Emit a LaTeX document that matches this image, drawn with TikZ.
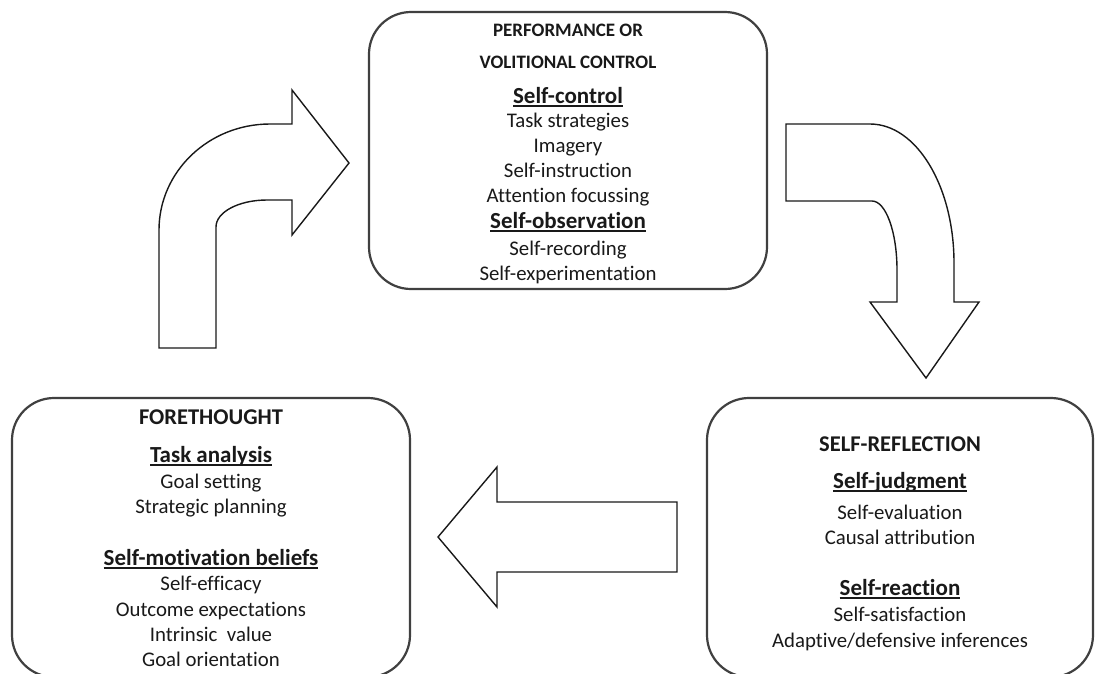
\documentclass[tikz,border=0pt]{standalone}
\usepackage{fontspec}
\setmainfont{Carlito}[Ligatures={NoCommon}]
\usetikzlibrary{positioning}
\tikzset{%
  phase/.style={draw=black!75, line width=2.2pt, rounded corners=42pt, inner sep=0pt},
  blockarrow/.style={draw=black!90, line width=1.4pt, line join=miter, fill=white},
  item/.style={anchor=base, inner sep=0pt, text=black!90, font=\fontsize{20.8}{25}\selectfont},
}
\newcommand{\phasetitle}[2][22.5]{{\fontsize{#1}{#1}\selectfont\bfseries #2}}
\newcommand{\topic}[1]{{\fontsize{23}{28}\selectfont\setbox0\hbox{\bfseries #1}%
  \rlap{\rule[-3.5pt]{\wd0}{1.4pt}}\box0}}

\begin{document}
\begin{tikzpicture}[x=1pt, y=-1pt]
  \path[fill=white, use as bounding box] (0,0) rectangle (1095,673);
  \clip (0,0) rectangle (1095,673);

  % the three phases
  \node[phase, minimum width=398pt, minimum height=277pt] (perf) at (568,150.5) {};
  \node[phase, minimum width=398pt, minimum height=279pt] (fore) at (211,537.5) {};
  \node[phase, minimum width=386pt, minimum height=279pt] (refl) at (900,537.5) {};

  \foreach \y/\t [count=\i] in {36/\phasetitle[19]{PERFORMANCE OR}, 68/\phasetitle[19]{VOLITIONAL CONTROL},
      103/\topic{Self-control}, 127/Task strategies, 152/Imagery, 177/Self-instruction,
      202/Attention focussing, 228/\topic{Self-observation}, 255/Self-recording,
      280/Self-experimentation}
    \node[item] (perf-\i) at (568,\y) {\t};

  \foreach \y/\t [count=\i] in {424/\phasetitle{FORETHOUGHT}, 462/\topic{Task analysis},
      488/Goal setting, 513/Strategic planning, 565/\topic{Self-motivation beliefs},
      590/Self-efficacy, 616/Outcome expectations, 641/Intrinsic~ value,
      666/Goal orientation}
    \node[item] (fore-\i) at (211,\y) {\t};

  \foreach \y/\t [count=\i] in {451/\phasetitle{SELF-REFLECTION}, 488/\topic{Self-judgment},
      519/Self-evaluation, 544/Causal attribution, 595/\topic{Self-reaction},
      621/Self-satisfaction, 647/{Adaptive/defensive inferences}}
    \node[item] (refl-\i) at (900,\y) {\t};

  % block arrows of the cycle
  \draw[blockarrow] (159,348) -- (159,230) .. controls (159,171.5) and (208.7,124) .. (270,124)
    -- (292,124) -- (292,90) -- (349,163) -- (292,235) -- (292,200) -- (267,200)
    .. controls (238.8,200) and (216,212) .. (216,227) -- (216,348) -- cycle;
  \draw[blockarrow] (786,124) -- (870,124) .. controls (916.4,124) and (954,186.2) .. (954,263)
    -- (954,302) -- (979,302) -- (926,378) -- (870,302) -- (897,302) -- (897,270)
    .. controls (897,231.9) and (885.8,201) .. (872,201) -- (786,201) -- cycle;
  \draw[blockarrow] (438,537) -- (497,467) -- (497,502) -- (677,502) -- (677,572)
    -- (497,572) -- (497,607) -- cycle;
\end{tikzpicture}
\end{document}
